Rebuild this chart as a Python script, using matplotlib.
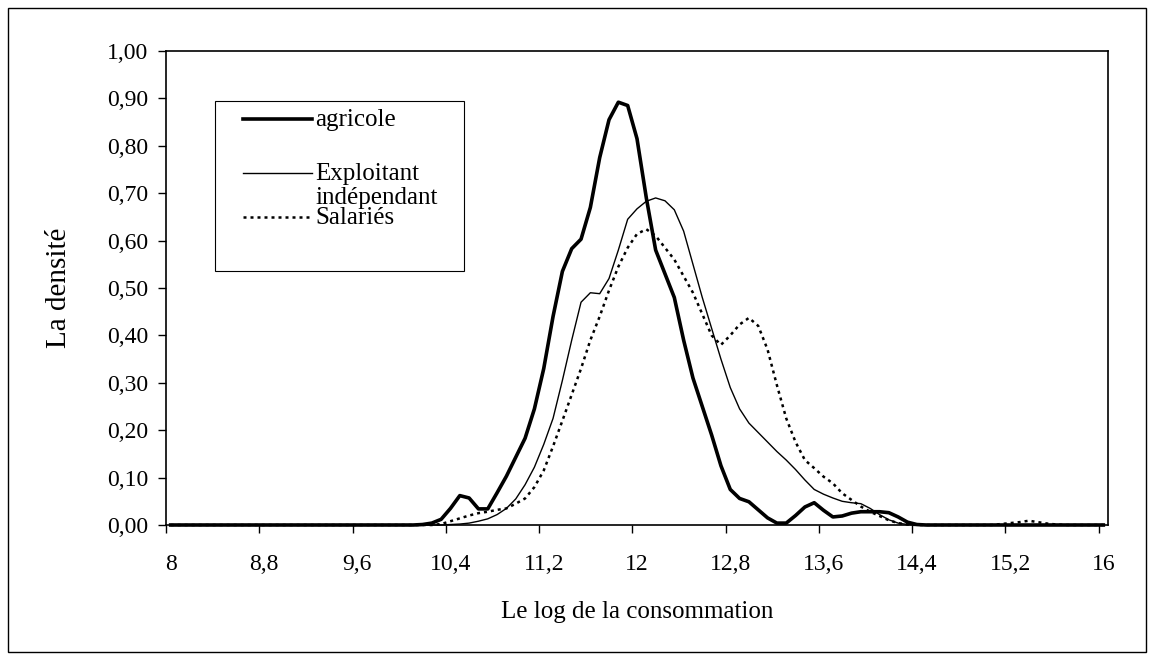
import numpy as np
import matplotlib
matplotlib.use('Agg')
from matplotlib import pyplot as plt
from matplotlib.patches import Rectangle
from matplotlib.lines import Line2D
from matplotlib.ticker import FuncFormatter

plt.rcParams['font.family'] = ['Liberation Serif', 'DejaVu Serif']

# densities, one value per category (8,00 to 16,00 by 0,08)
agricole = [
    0, 0, 0, 0, 0, 0, 0, 0, 0, 0,
    0, 0, 0, 0, 0, 0, 0, 0, 0, 0,
    0, 0, 0, 0, 0, 0, 0, 0.001, 0.004, 0.012,
    0.035, 0.062, 0.057, 0.034, 0.034, 0.068, 0.103, 0.143, 0.183, 0.245,
    0.33, 0.44, 0.535, 0.583, 0.603, 0.67, 0.775, 0.855, 0.892, 0.885,
    0.815, 0.69, 0.58, 0.53, 0.48, 0.39, 0.31, 0.25, 0.19, 0.125,
    0.075, 0.056, 0.049, 0.032, 0.015, 0.004, 0.004, 0.02, 0.038, 0.047,
    0.031, 0.017, 0.019, 0.025, 0.028, 0.028, 0.028, 0.026, 0.017, 0.006,
    0.001, 0, 0, 0, 0, 0, 0, 0, 0, 0,
    0, 0, 0, 0, 0, 0, 0, 0, 0, 0,
    0,
]
exploitant = [
    0, 0, 0, 0, 0, 0, 0, 0, 0, 0,
    0, 0, 0, 0, 0, 0, 0, 0, 0, 0,
    0, 0, 0, 0, 0, 0, 0, 0, 0, 0,
    0.001, 0.002, 0.004, 0.008, 0.013, 0.022, 0.035, 0.055, 0.085, 0.122,
    0.17, 0.225, 0.305, 0.39, 0.47, 0.49, 0.488, 0.52, 0.58, 0.645,
    0.667, 0.683, 0.69, 0.684, 0.665, 0.62, 0.55, 0.48, 0.415, 0.35,
    0.29, 0.245, 0.215, 0.195, 0.175, 0.155, 0.137, 0.117, 0.095, 0.075,
    0.065, 0.057, 0.05, 0.047, 0.045, 0.035, 0.022, 0.011, 0.004, 0.001,
    0, 0, 0, 0, 0, 0, 0, 0, 0, 0,
    0, 0, 0, 0, 0, 0, 0, 0, 0, 0,
    0,
]
salaries = [
    0, 0, 0, 0, 0, 0, 0, 0, 0, 0,
    0, 0, 0, 0, 0, 0, 0, 0, 0, 0,
    0, 0, 0, 0, 0, 0, 0, 0, 0, 0.002,
    0.008, 0.014, 0.02, 0.025, 0.028, 0.032, 0.035, 0.045, 0.056, 0.08,
    0.115, 0.166, 0.22, 0.275, 0.33, 0.39, 0.44, 0.495, 0.545, 0.585,
    0.614, 0.624, 0.61, 0.585, 0.56, 0.525, 0.49, 0.445, 0.40, 0.38,
    0.40, 0.423, 0.437, 0.42, 0.37, 0.295, 0.225, 0.175, 0.137, 0.12,
    0.102, 0.088, 0.067, 0.053, 0.039, 0.028, 0.019, 0.01, 0.004, 0.001,
    0, 0, 0, 0, 0, 0, 0, 0, 0, 0.002,
    0.004, 0.006, 0.009, 0.006, 0.003, 0.001, 0, 0, 0, 0,
    0,
]
x_labels = ['8', '8,8', '9,6', '10,4', '11,2', '12', '12,8', '13,6', '14,4', '15,2', '16']
label_every = 10

W, H = 1154, 660


def fx(x):
    return x / W


def fy(y):
    return 1 - y / H


fig = plt.figure(figsize=(W / 100, H / 100), dpi=100)
ax = fig.add_axes([fx(166), fy(525), fx(1108 - 166), (525 - 51) / H])

idx = np.arange(len(agricole))
ax.plot(idx, agricole, color='black', lw=2.6, clip_on=False, zorder=4)
ax.plot(idx, exploitant, color='black', lw=1.0, clip_on=False, zorder=3)
ax.plot(idx, salaries, color='black', lw=1.8, ls=(0, (1.2, 1.6)), clip_on=False, zorder=3)

ax.set_xlim(-0.5, len(idx) - 0.5)
ax.set_ylim(0, 1)

# tick marks between categories, labels on category centres
lab_pos = np.arange(0, len(idx), label_every)
ax.set_xticks(lab_pos - 0.5)
ax.set_xticklabels([])
ax.set_xticks(lab_pos, minor=True)
ax.set_xticklabels(x_labels, minor=True)
ax.tick_params(axis='x', which='major', direction='out', length=5.5, width=1)
ax.tick_params(axis='x', which='minor', length=0, pad=21, labelsize=17)

ax.set_yticks(np.arange(0, 1.01, 0.1))
ax.yaxis.set_major_formatter(FuncFormatter(lambda v, p: f'{v:.2f}'.replace('.', ',')))
ax.tick_params(axis='y', direction='out', length=5.5, width=1, pad=7, labelsize=17)

for s in ax.spines.values():
    s.set_linewidth(1.2)

ax.set_xlabel('Le log de la consommation', fontsize=18)
ax.xaxis.set_label_coords(0.5, -(601 - 525) / (525 - 51), transform=ax.transAxes)
ax.set_ylabel('La densité', fontsize=21)
ax.yaxis.set_label_coords(fx(72), 0.5, transform=matplotlib.transforms.blended_transform_factory(fig.transFigure, ax.transAxes))

# legend box drawn the way the original shows it
fig.add_artist(Rectangle((fx(215), fy(271)), fx(464 - 215), (271 - 101) / H,
                         transform=fig.transFigure, facecolor='white', edgecolor='black', lw=0.8))
legend_rows = [
    ('agricole', 119, dict(lw=2.6, ls='-')),
    ('Exploitant', 173, dict(lw=1.0, ls='-')),
    ('Salariés', 217, dict(lw=1.8, ls=(0, (1.2, 1.6)))),
]
for name, y, style in legend_rows:
    fig.add_artist(Line2D([fx(243), fx(312)], [fy(y), fy(y)], transform=fig.transFigure,
                          color='black', **style))
    fig.text(fx(315), fy(y + 1), name, fontsize=18, va='center', ha='left')
fig.text(fx(315), fy(198), 'indépendant', fontsize=18, va='center', ha='left')

# outer frame of the chart
fig.add_artist(Rectangle((fx(8), fy(652)), fx(1146 - 8), (652 - 8) / H,
                         transform=fig.transFigure, fill=False, edgecolor='black', lw=1))

fig.savefig('out.png', dpi=100)
